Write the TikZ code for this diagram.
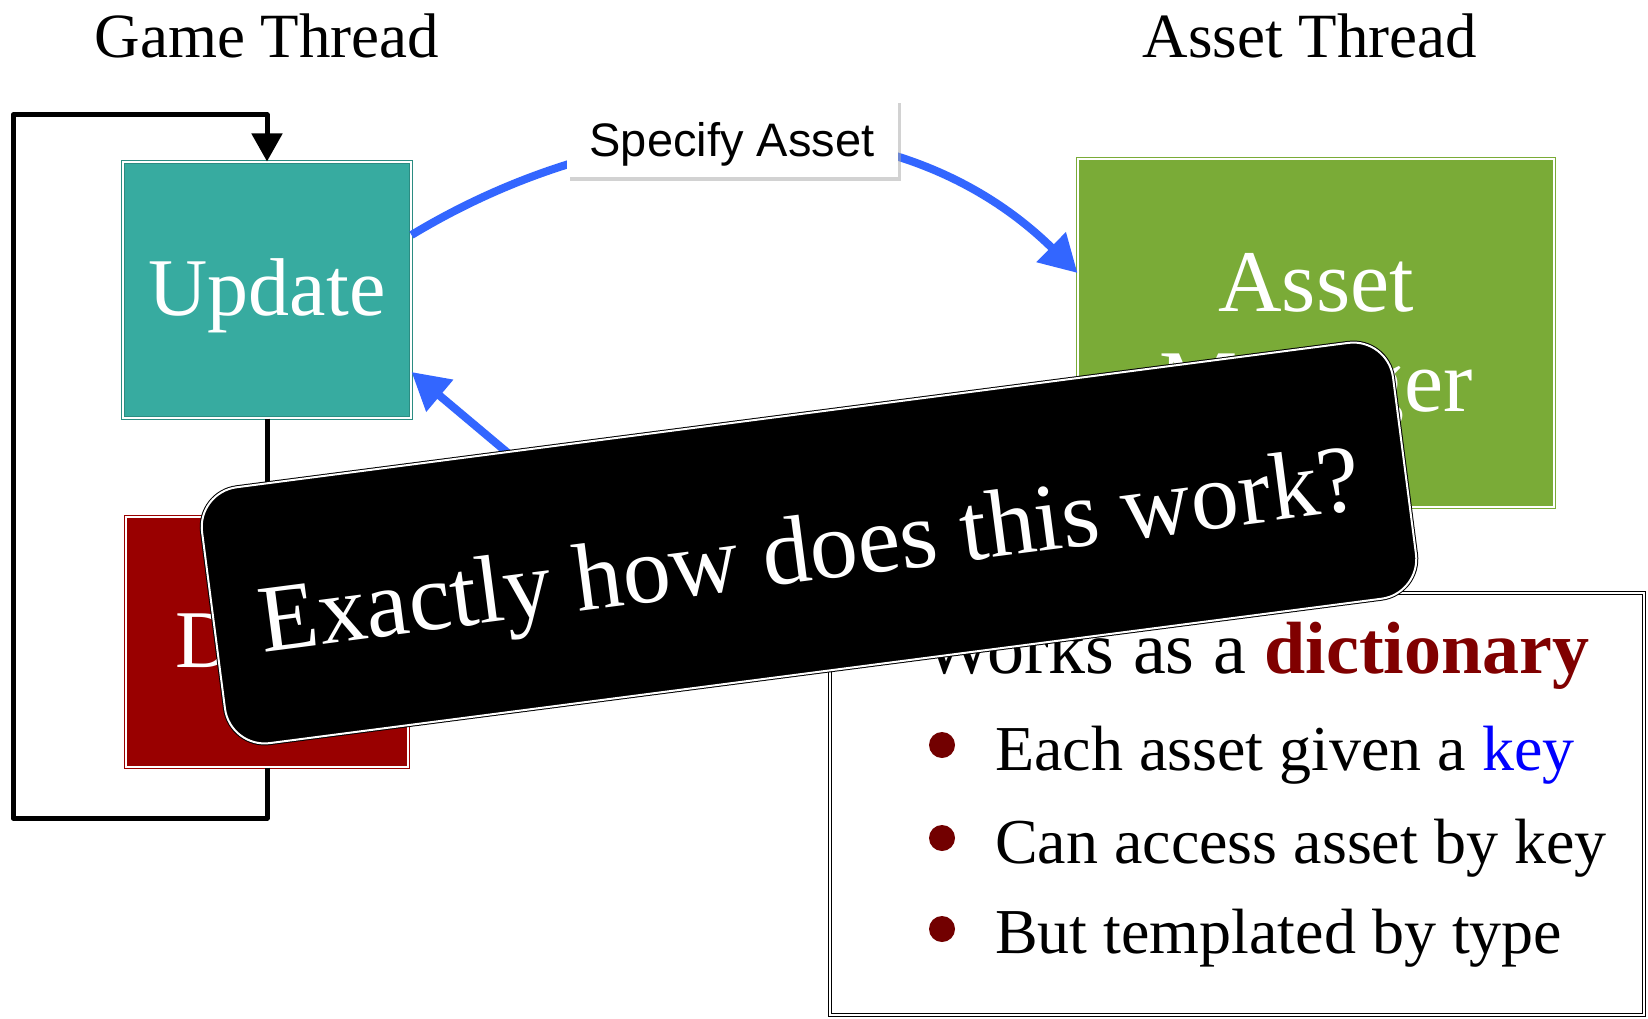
\documentclass[tikz,border=0pt]{standalone}
\usepackage{fontspec}
\usepackage{graphicx}
\setmainfont{Liberation Serif}
\newfontfamily\arialf{Liberation Sans}
\usetikzlibrary{arrows.meta,shadows,calc}
\definecolor{tealbox}{HTML}{37ABA0}
\definecolor{tealedge}{HTML}{2B8C82}
\definecolor{greenbox}{HTML}{7AAB37}
\definecolor{redbox}{HTML}{990000}
\definecolor{arrowblue}{HTML}{3366FF}
\definecolor{dictred}{HTML}{800000}
\definecolor{bulletred}{HTML}{720000}
\tikzset{
  framebox/.style={draw, double=white, line width=1pt, double distance=2pt, inner sep=0pt},
  boxtxt/.style={text=white, inner sep=0pt},
  titletxt/.style={anchor=base, inner sep=0pt, font=\fontsize{63}{75}\selectfont},
  loopline/.style={draw=black, line width=5pt, line join=round},
  bluearrow/.style={draw=arrowblue, line width=8pt, -{Triangle[length=37pt,width=40pt]}},
  bullettxt/.style={anchor=base west, inner sep=0pt, font=\fontsize{64}{76}\selectfont},
  bulletdot/.style={circle, fill=bulletred, minimum size=26pt, inner sep=0pt},
}
\begin{document}
\begin{tikzpicture}[x=1pt,y=-1pt]
\fill[white] (0,0) rectangle (1648,1019);
\useasboundingbox (0,0) rectangle (1648,1019);

% titles
\node[titletxt] (gt) at (267,58) {Game Thread};
\node[titletxt] (at) at (1310,58) {Asset Thread};

% boxes
\node[framebox, fill=tealbox, draw=tealedge, minimum width=288pt, minimum height=256pt,
      boxtxt, font=\fontsize{82}{98}\selectfont, text height=60pt, text depth=10pt] (upd) at (267,290) {Update};
\node[framebox, fill=redbox, draw=redbox, minimum width=282pt, minimum height=250pt,
      boxtxt, font=\fontsize{82}{98}\selectfont, text height=60pt, text depth=10pt] (drw) at (267,642) {Draw};
\node[framebox, fill=greenbox, draw=greenbox, minimum width=476pt, minimum height=348pt] (am) at (1316,333) {};
\node[boxtxt, align=center, font=\fontsize{88}{100}\selectfont] (amt) at ([yshift=-9pt]am.center) {Asset\\Manager};

% loop
\coordinate (lpb) at (13,818);
\coordinate (lpt) at (13,115);
\draw[loopline] (upd.south) -- (drw.north);
\draw[loopline, -{Triangle[length=28pt,width=30pt]}] (drw.south) |- (lpb) -- (lpt) -| (upd.north);

% blue arrows
\draw[bluearrow] ([yshift=55pt]upd.east) .. controls (625,106) and (894,93) .. ([yshift=60pt]am.west);
\coordinate (rb) at (540,480);
\draw[bluearrow] ([yshift=-97pt]am.west) .. controls (900,560) and (615,545) .. (rb) -- ([yshift=-82pt]upd.east);

% label
\node[fill=white, drop shadow={shadow xshift=3pt, shadow yshift=-4pt, fill=black!35, opacity=0.5},
      minimum width=331pt, minimum height=78pt, inner sep=0pt,
      font=\arialf\fontsize{47}{56}\selectfont, text height=40pt, text depth=2pt] (spec) at (732,138) {Specify Asset};

% dictionary box
\node[draw=black, double=white, line width=1.2pt, double distance=2pt, fill=white,
      minimum width=814pt, minimum height=422pt, inner sep=0pt] (dict) at (1237,804) {};
\node[anchor=base west, inner sep=0pt, font=\fontsize{74}{88}\selectfont] (d0) at (923,673)
  {Works as a \textcolor{dictred}{\bfseries dictionary}};
\node[bulletdot] (b1) at (942,745) {};
\node[bulletdot] (b2) at (942,838) {};
\node[bulletdot] (b3) at (942,929) {};
\node[bullettxt] (t1) at (995,770) {Each asset given a \textcolor{blue}{key}};
\node[bullettxt] (t2) at (995,863) {Can access asset by key};
\node[bullettxt] (t3) at (995,953) {But templated by type};

% overlay question box
\node[draw=black, double=white, line width=1pt, double distance=2pt, fill=black,
      rounded corners=40pt, rotate=7.4, minimum width=1201pt, minimum height=258pt, inner sep=0pt,
      text=white, font=\fontsize{96}{112}\selectfont, text height=76pt, text depth=0pt] (q) at (809,543)
  {Exactly how does this work?};
\end{tikzpicture}
\end{document}
